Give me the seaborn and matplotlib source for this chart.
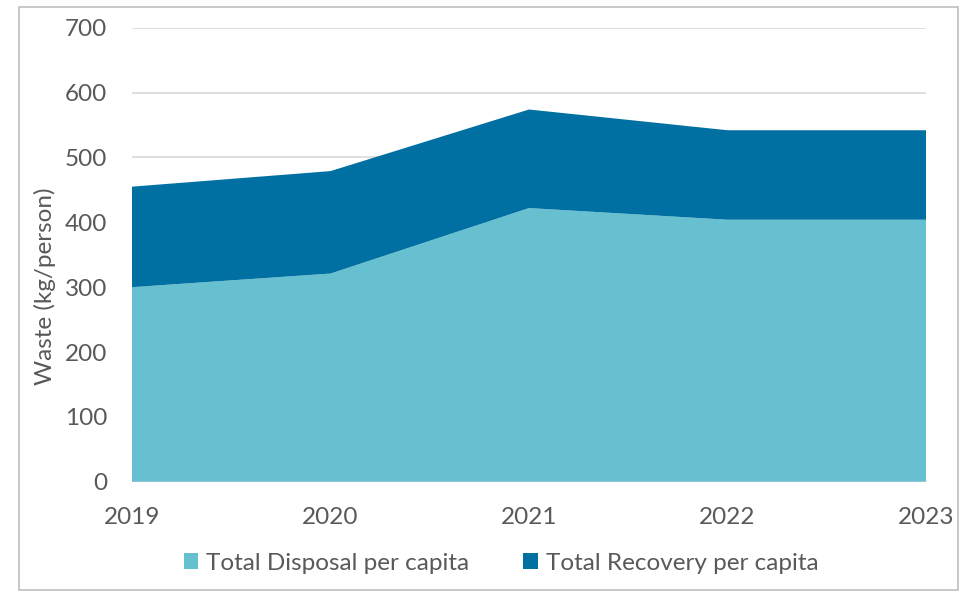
import matplotlib
matplotlib.use("Agg")
import matplotlib.pyplot as plt
import seaborn as sns
import numpy as np
from matplotlib.patches import Rectangle, Patch

years = [2019, 2020, 2021, 2022, 2023]
disposal = [300, 321, 422, 404, 404]
recovery = [155, 158, 152, 138, 138]
series_names = ["Total Disposal per capita", "Total Recovery per capita"]
colors = ["#67C0D0", "#006FA1"]

sns.set_theme(style="white")
plt.rcParams['font.family'] = ['Lato', 'DejaVu Sans']

FS = 17.5
fig = plt.figure(figsize=(9.62, 5.92), dpi=100)
ax = fig.add_axes([132/962, 1 - 481.7/592, (926-132)/962, (481.7-27.8)/592])

ax.stackplot(years, disposal, recovery, colors=colors, labels=series_names,
             linewidth=0, edgecolor='none', zorder=2)
ax.set_xlim(2019, 2023)
ax.set_ylim(0, 700)
ax.set_yticks(range(0, 701, 100))
ax.set_xticks(years)
ax.yaxis.grid(True, color="#D9D9D9", linewidth=1.2, zorder=0)
ax.set_axisbelow(True)
for s in ax.spines.values():
    s.set_visible(False)
ax.tick_params(axis='both', length=0, labelsize=FS, labelcolor="#595959")
ax.tick_params(axis='y', pad=18)
ax.tick_params(axis='x', pad=18)
ax.set_ylabel("Waste (kg/person)", fontsize=FS, color="#595959", labelpad=6)
ax.yaxis.label.set_y(0.43)

handles = [Patch(color=c, linewidth=0) for c in colors]
fig.legend(handles, series_names, loc='center', bbox_to_anchor=(501/962, 1 - 563/592),
           ncol=2, frameon=False, fontsize=FS, labelcolor="#595959",
           handlelength=0.6, handleheight=0.6, handletextpad=0.33, columnspacing=2.2)

fig.patches.append(Rectangle((19/962, 1 - 590/592), (958-19)/962, (590-7)/592,
                             transform=fig.transFigure, fill=False,
                             edgecolor="#BFBFBF", linewidth=1.2))

fig.savefig("out.png", dpi=100)
